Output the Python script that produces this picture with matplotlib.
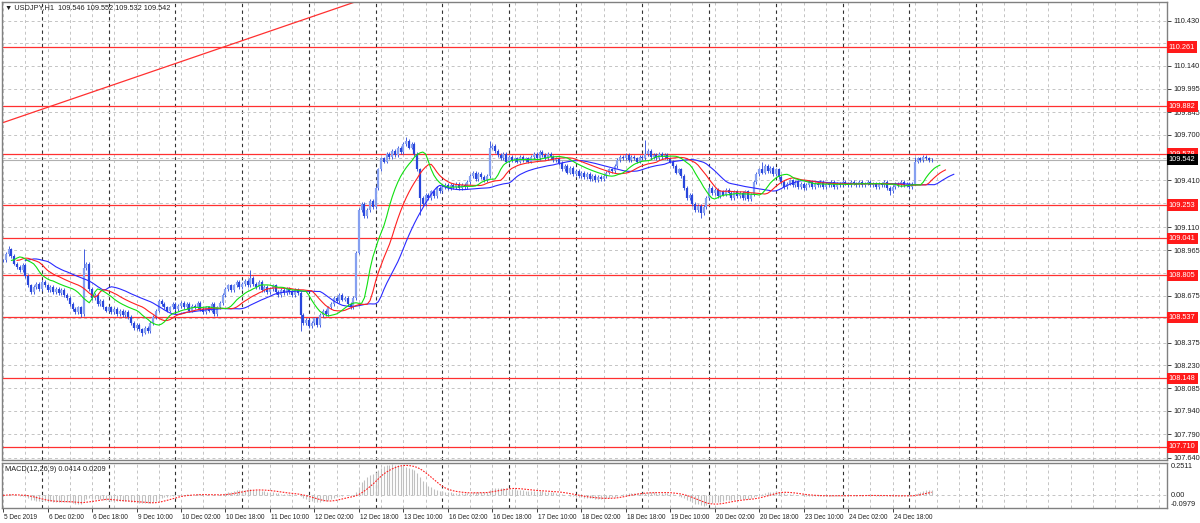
import numpy as np
import pandas as pd
import matplotlib
matplotlib.use('Agg')
import matplotlib.pyplot as plt
import matplotlib.transforms as mtransforms

plt.rcParams['font.family'] = ['Liberation Sans', 'DejaVu Sans']

# ---- data (USDJPY H1) ----
first_bar = 10          # bar index of the first visible candle (5 Dec 10:00)
days = ['5 Dec', '6 Dec', '9 Dec', '10 Dec', '11 Dec', '12 Dec', '13 Dec', '16 Dec',
        '17 Dec', '18 Dec', '19 Dec', '20 Dec', '23 Dec', '24 Dec', '25 Dec', '26 Dec']

closes = [
    108.90, 108.94, 108.97, 108.93, 108.88, 108.86, 108.84, 108.87, 108.80, 108.74,
    108.70, 108.73, 108.75, 108.72, 108.76, 108.74, 108.71, 108.73, 108.70, 108.72,
    108.69, 108.71, 108.68, 108.66, 108.62, 108.59, 108.57, 108.60, 108.56, 108.85,
    108.88, 108.72, 108.66, 108.68, 108.62, 108.64, 108.60, 108.58, 108.60, 108.57,
    108.59, 108.56, 108.58, 108.55, 108.57, 108.54, 108.50, 108.47, 108.49, 108.46,
    108.44, 108.47, 108.45, 108.50, 108.54, 108.58, 108.64, 108.62, 108.60, 108.58,
    108.60, 108.62, 108.59, 108.61, 108.63, 108.60, 108.62, 108.58, 108.61, 108.60,
    108.63, 108.59, 108.57, 108.60, 108.58, 108.62, 108.56, 108.60, 108.63, 108.68,
    108.72, 108.74, 108.71, 108.74, 108.76, 108.73, 108.75, 108.77, 108.74, 108.79,
    108.75, 108.73, 108.76, 108.71, 108.73, 108.70, 108.72, 108.74, 108.70, 108.68,
    108.71, 108.69, 108.72, 108.70, 108.68, 108.71, 108.69, 108.55, 108.50, 108.52,
    108.48, 108.50, 108.53, 108.49, 108.55, 108.58, 108.56, 108.60, 108.62, 108.66,
    108.64, 108.68, 108.65, 108.66, 108.62, 108.60, 108.66, 108.95, 109.22, 109.26,
    109.18, 109.22, 109.28, 109.24, 109.36, 109.48, 109.55, 109.53, 109.58, 109.56,
    109.60, 109.57, 109.62, 109.59, 109.64, 109.66, 109.62, 109.64, 109.58, 109.48,
    109.30, 109.26, 109.32, 109.30, 109.34, 109.31, 109.36, 109.34, 109.37, 109.38,
    109.36, 109.38, 109.37, 109.39, 109.36, 109.38, 109.37, 109.40, 109.44, 109.46,
    109.42, 109.45, 109.43, 109.41, 109.44, 109.62, 109.63, 109.60, 109.57, 109.55,
    109.58, 109.53, 109.56, 109.54, 109.55, 109.53, 109.56, 109.54, 109.55, 109.53,
    109.56, 109.58, 109.55, 109.59, 109.57, 109.55, 109.58, 109.56, 109.54, 109.55,
    109.52, 109.48, 109.50, 109.46, 109.49, 109.45, 109.47, 109.44, 109.46, 109.43,
    109.45, 109.42, 109.44, 109.41, 109.43, 109.42, 109.44, 109.46, 109.48, 109.47,
    109.50, 109.54, 109.56, 109.55, 109.57, 109.54, 109.56, 109.55, 109.53, 109.56,
    109.55, 109.58, 109.60, 109.56, 109.57, 109.55, 109.58, 109.56, 109.57, 109.55,
    109.53, 109.50, 109.46, 109.48, 109.44, 109.36, 109.30, 109.32, 109.26, 109.22,
    109.25, 109.20, 109.24, 109.30, 109.36, 109.33, 109.35, 109.31, 109.34, 109.32,
    109.35, 109.33, 109.30, 109.34, 109.31, 109.33, 109.30, 109.34, 109.29, 109.32,
    109.40, 109.45, 109.48, 109.46, 109.50, 109.47, 109.49, 109.45, 109.48, 109.43,
    109.40, 109.37, 109.39, 109.41, 109.38, 109.40, 109.37, 109.39, 109.36, 109.38,
    109.40, 109.37, 109.39, 109.38, 109.40, 109.37, 109.39, 109.38, 109.40, 109.37,
    109.39, 109.38, 109.40, 109.39, 109.38, 109.40, 109.39, 109.38, 109.40, 109.38,
    109.39, 109.40, 109.38, 109.39, 109.37, 109.39, 109.38, 109.40, 109.36, 109.34,
    109.37, 109.39, 109.38, 109.40, 109.38, 109.39, 109.37, 109.39, 109.53, 109.55,
    109.54, 109.56, 109.55, 109.54, 109.542,
]
spike_highs = {12: 108.99, 39: 108.97, 99: 108.84, 155: 109.69, 185: 109.66,
               241: 109.67, 283: 109.53, 338: 109.56}
spike_lows = {38: 108.54, 60: 108.42, 117: 108.45, 160: 109.19, 261: 109.17, 329: 109.32}

levels = [110.261, 109.882, 109.578, 109.253, 109.041, 108.805, 108.537, 108.148, 107.710]
price_ticks = [110.430, 110.285, 110.140, 109.995, 109.845, 109.700, 109.555, 109.410,
               109.265, 109.110, 108.965, 108.820, 108.675, 108.530, 108.375, 108.230,
               108.085, 107.940, 107.790, 107.640]
hidden_ticks = [110.285, 109.555, 109.265, 108.820, 108.530]   # covered by level labels
bid = 109.542
trend_pts = [(10, 109.779), (130, 110.508)]
header = '\u25bc USDJPY,H1  109.546 109.552 109.532 109.542'
macd_title = 'MACD(12,26,9) 0.0414 0.0209'
macd_top, macd_bottom = 0.2511, -0.0979

# ---- build bars ----
c = np.array(closes)
idx = np.arange(first_bar, first_bar + len(c))
o = np.r_[c[0], c[:-1]]
wick = 0.012
hi = np.maximum(o, c) + wick
lo = np.minimum(o, c) - wick
for k, v in spike_highs.items():
    hi[k - first_bar] = max(v, hi[k - first_bar])
for k, v in spike_lows.items():
    lo[k - first_bar] = min(v, lo[k - first_bar])

median = pd.Series((hi + lo) / 2)
jaw = median.ewm(alpha=1/13, adjust=False).mean()
teeth = median.ewm(alpha=1/8, adjust=False).mean()
lips = median.ewm(alpha=1/5, adjust=False).mean()

cs = pd.Series(c)
macd = cs.ewm(span=12, adjust=False).mean() - cs.ewm(span=26, adjust=False).mean()
signal = macd.rolling(9, min_periods=1).mean()

# ---- figure ----
W, H = 1200, 523
FS = 5.3
FS_T = 4.7
fig = plt.figure(figsize=(W/100, H/100), dpi=100)
ax = fig.add_axes([2/W, 63/H, 1165/W, 458/H])
axm = fig.add_axes([2/W, 15/H, 1165/W, 45/H], sharex=ax)

xmin, xmax = 9.61, 428.7
ax.set_xlim(xmin, xmax)
ax.set_ylim(107.627, 110.548)
axm.set_ylim(macd_bottom, macd_top)

dash_gray = dict(color='#c4c4c4', lw=0.7, ls=(0, (3, 3)), zorder=0)
dash_black = dict(color='#303030', lw=0.8, ls=(0, (3, 3)), zorder=0)
for a in (ax, axm):
    for i in range(2, 430, 8):
        a.axvline(i, **dash_gray)
    for i in range(0, 361, 24):
        a.axvline(i, **dash_black)
    for s in a.spines.values():
        s.set_color('#808080')
        s.set_linewidth(1.0)
for v in price_ticks:
    ax.axhline(v, **dash_gray)
axm.axhline(0, **dash_gray)

# candles
bull = c >= o
ax.vlines(idx, lo, hi, color='#2846dc', lw=0.6, zorder=3)
ax.vlines(idx[bull], o[bull], c[bull], color='#86a0f0', lw=1.6, zorder=4)
ax.vlines(idx[~bull], c[~bull], o[~bull], color='#2846dc', lw=1.6, zorder=4)

# alligator
ax.plot(idx + 8, jaw, color='#2a2aff', lw=0.8, zorder=5)
ax.plot(idx + 5, teeth, color='#ff2020', lw=0.8, zorder=5)
ax.plot(idx + 3, lips, color='#10e010', lw=0.8, zorder=5)

# levels, trendline, bid line
for v in levels:
    ax.axhline(v, color='#ff3030', lw=0.9, zorder=2)
ax.axline(trend_pts[0], trend_pts[1], color='#ff3030', lw=0.9, zorder=2)
ax.axhline(bid, color='#b0b0b0', lw=0.8, zorder=2)

# price scale
ax.yaxis.tick_right()
ax.set_yticks(price_ticks)
ax.set_yticklabels(['' if v in hidden_ticks else f'{v:.3f}' for v in price_ticks])
ax.tick_params(axis='y', length=3, width=0.6, pad=1.5, labelsize=FS, colors='#202020')
ax.tick_params(axis='x', bottom=False, labelbottom=False)

lab_tr = mtransforms.blended_transform_factory(ax.transAxes, ax.transData)
for v in levels:
    ax.text(1.0015, v, f'{v:.3f}', transform=lab_tr, ha='left', va='center', fontsize=FS,
            color='white', clip_on=False, zorder=10,
            bbox=dict(boxstyle='square,pad=0.3', fc='#ff1a1a', ec='none'))
ax.text(1.0015, bid, f'{bid:.3f}', transform=lab_tr, ha='left', va='center', fontsize=FS,
        color='white', clip_on=False, zorder=11,
        bbox=dict(boxstyle='square,pad=0.3', fc='black', ec='none'))

ax.text(0.003, 0.996, header, transform=ax.transAxes, ha='left', va='top', fontsize=FS,
        color='#202020')

# macd pane
axm.vlines(idx, 0, macd, color='#c0c0c0', lw=0.8, zorder=2)
axm.plot(idx, signal, color='#ff2020', lw=0.8, ls=(0, (1.5, 1.2)), zorder=3)
axm.text(0.003, 0.93, macd_title, transform=axm.transAxes, ha='left', va='top', fontsize=FS,
         color='#202020')
axm.set_yticks([])
mtr = mtransforms.blended_transform_factory(axm.transAxes, axm.transData)
axm.text(1.003, macd_top, f'{macd_top:.4f}', transform=mtr, ha='left', va='top',
         fontsize=FS, color='#202020', clip_on=False)
axm.text(1.003, 0, '0.00', transform=mtr, ha='left', va='center',
         fontsize=FS, color='#202020', clip_on=False)
axm.text(1.003, macd_bottom, f'{macd_bottom:.4f}', transform=mtr, ha='left', va='bottom',
         fontsize=FS, color='#202020', clip_on=False)

# time axis
tick_pos = [first_bar] + list(range(26, idx[-1] + 1, 16))
tick_lab = []
for i in tick_pos:
    d, h = days[i // 24], i % 24
    tick_lab.append(f'{d} 2019' if i == first_bar else f'{d} {h:02d}:00')
axm.set_xticks(tick_pos)
axm.set_xticklabels(tick_lab)
axm.tick_params(axis='x', length=3, width=0.6, pad=1, labelsize=FS_T, colors='#202020')
offs = mtransforms.ScaledTranslation(1/100, 0, fig.dpi_scale_trans)
for lab in axm.get_xticklabels():
    lab.set_ha('left')
    lab.set_transform(lab.get_transform() + offs)

fig.savefig('out.png', dpi=100)
